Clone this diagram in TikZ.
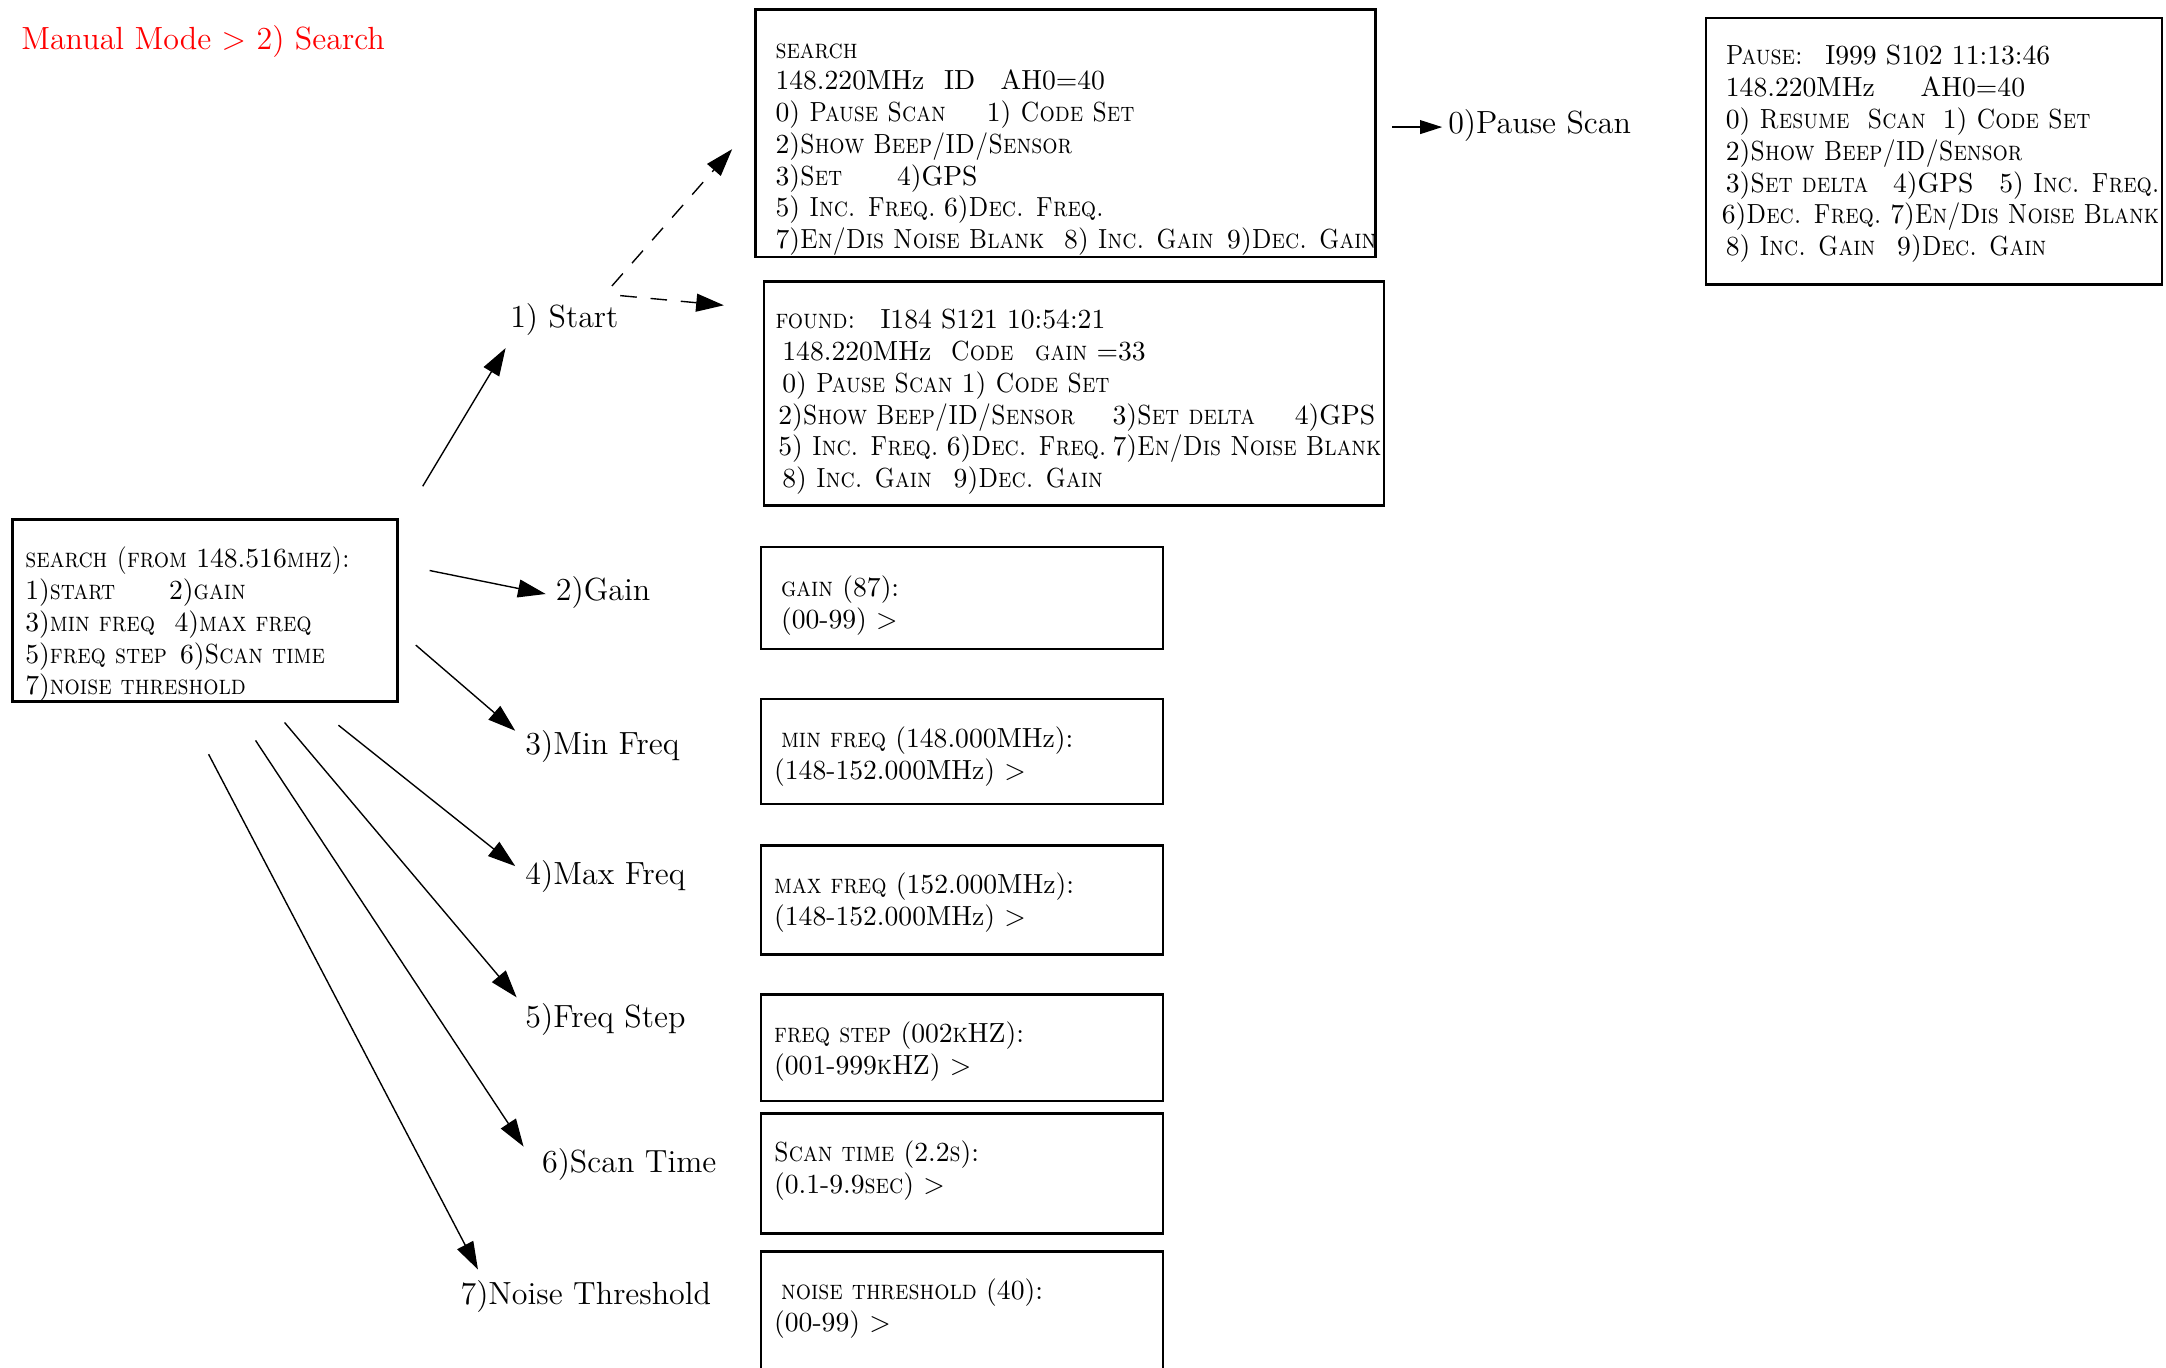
\documentclass[tikz,border=0pt]{standalone}
\usetikzlibrary{arrows.meta}
\newcommand\seg[2]{\makebox[#1pt][l]{#2}}
\newcommand\mysc[1]{\scalebox{0.87}[1]{\textsc{#1}}}
\begin{document}
\begin{tikzpicture}[x=0.5pt,y=-0.5pt,
  box/.style={draw, line width=0.9pt, inner sep=0pt, anchor=north west},
  txt/.style={anchor=base west, inner sep=0pt, font=\fontsize{10}{11.5}\selectfont},
  lbl/.style={anchor=base west, inner sep=0pt, font=\fontsize{11.6}{13}\selectfont},
  arr/.style={-{Triangle[length=10pt,width=6.5pt]}, line width=0.5pt},
  darr/.style={arr, dash pattern=on 6pt off 5pt}]
\useasboundingbox (0,0) rectangle (1568,990);

% title
\node[lbl, text=red] (title) at (15,36) {Manual Mode > 2) Search};

% boxes
\node[box, minimum width=139.5pt, minimum height=66pt] (menu) at (8,375) {};
\node[box, minimum width=224.5pt, minimum height=89.5pt] (searchbox) at (546,6) {};
\node[box, minimum width=224.5pt, minimum height=81pt] (foundbox) at (552,203) {};
\node[box, minimum width=165pt, minimum height=96.5pt] (pausebox) at (1234,12) {};
\node[box, minimum width=145.5pt, minimum height=37pt] (gainbox) at (550,395) {};
\node[box, minimum width=145.5pt, minimum height=38pt] (minbox) at (550,505) {};
\node[box, minimum width=145.5pt, minimum height=39.5pt] (maxbox) at (550,611) {};
\node[box, minimum width=145.5pt, minimum height=38.5pt] (stepbox) at (550,719) {};
\node[box, minimum width=145.5pt, minimum height=43.5pt] (timebox) at (550,805) {};
\node[box, minimum width=145.5pt, minimum height=60pt] (noisebox) at (550,905) {};

% texts
\node[txt] (menutxt) at (18,411) {\begin{tabular}[t]{@{}l@{}}
\mysc{search (from} 148.516\mysc{mhz):}\\
\seg{52}{1)\mysc{start}}2)\mysc{gain}\\
\seg{54}{3)\mysc{min freq}}4)\mysc{max freq}\\
\seg{56}{5)\mysc{freq step}}6)\mysc{Scan time}\\
7)\mysc{noise threshold}
\end{tabular}};

\node[txt] (searchtxt) at (561,42) {\begin{tabular}[t]{@{}l@{}}
\mysc{search}\\
\seg{61}{148.220MHz}\seg{20.5}{ID}AH0=40\\
\seg{76.5}{0) \mysc{Pause Scan}}1) \mysc{Code Set}\\
2)\mysc{Show Beep/ID/Sensor}\\
\seg{44}{3)\mysc{Set}}4)GPS\\
\seg{61}{5) \mysc{Inc. Freq.}}6)\mysc{Dec. Freq.}\\
\seg{104.5}{7)\mysc{En/Dis Noise Blank}}\seg{59}{8) \mysc{Inc. Gain}}9)\mysc{Dec. Gain}
\end{tabular}};

\node[txt] (foundtxt) at (561,238) {\begin{tabular}[t]{@{}l@{}}
\seg{38}{\mysc{found:}}I184 S121 10:54:21\\
\hspace{2.5pt}\seg{61}{148.220MHz}\seg{30.5}{\mysc{Code}}\mysc{gain} =33\\
\hspace{2.5pt}0) \mysc{Pause Scan} 1) \mysc{Code Set}\\
\hspace{1pt}\seg{121}{2)\mysc{Show Beep/ID/Sensor}}\seg{66}{3)\mysc{Set delta}}4)GPS\\
\hspace{1pt}\seg{61}{5) \mysc{Inc. Freq.}}\seg{60}{6)\mysc{Dec. Freq.}}7)\mysc{En/Dis Noise Blank}\\
\hspace{2.5pt}\seg{62}{8) \mysc{Inc. Gain}}9)\mysc{Dec. Gain}
\end{tabular}};

\node[txt] (pausetxt) at (1249,47) {\begin{tabular}[t]{@{}l@{}}
\seg{36}{\mysc{Pause:}}I999 S102 11:13:46\\
\seg{70.5}{148.220MHz}AH0=40\\
\seg{78.5}{0) \mysc{Resume\ \ Scan}}1) \mysc{Code Set}\\
2)\mysc{Show Beep/ID/Sensor}\\
\seg{60.5}{3)\mysc{Set delta}}\seg{38.5}{4)GPS}5) \mysc{Inc. Freq.}\\
\hspace{-1.5pt}\seg{61}{6)\mysc{Dec. Freq.}}7)\mysc{En/Dis Noise Blank}\\
\seg{62}{8) \mysc{Inc. Gain}}9)\mysc{Dec. Gain}
\end{tabular}};

\node[txt] (gaintxt) at (560,432) {\begin{tabular}[t]{@{}l@{}}
\hspace{2.5pt}\mysc{gain} (87):\\
\hspace{2.5pt}(00-99) >
\end{tabular}};
\node[txt] (mintxt) at (560,541) {\begin{tabular}[t]{@{}l@{}}
\hspace{2.5pt}\mysc{min freq} (148.000MHz):\\
(148-152.000MHz) >
\end{tabular}};
\node[txt] (maxtxt) at (560,647) {\begin{tabular}[t]{@{}l@{}}
\mysc{max freq} (152.000MHz):\\
(148-152.000MHz) >
\end{tabular}};
\node[txt] (steptxt) at (560,755) {\begin{tabular}[t]{@{}l@{}}
\mysc{freq step} (002\mysc{k}HZ):\\
(001-999\mysc{k}HZ) >
\end{tabular}};
\node[txt] (timetxt) at (560,841) {\begin{tabular}[t]{@{}l@{}}
\mysc{Scan time} (2.2\mysc{s}):\\
(0.1-9.9\mysc{sec}) >
\end{tabular}};
\node[txt] (noisetxt) at (560,941) {\begin{tabular}[t]{@{}l@{}}
\hspace{2.5pt}\mysc{noise threshold} (40):\\
(00-99) >
\end{tabular}};

% labels
\node[lbl] (lstart) at (369,237) {1) Start};
\node[lbl] (lgain) at (402,435) {2)Gain};
\node[lbl] (lmin) at (380,546) {3)Min Freq};
\node[lbl] (lmax) at (380,640) {4)Max Freq};
\node[lbl] (lstep) at (380,744) {5)Freq Step};
\node[lbl] (ltime) at (392,849) {6)Scan Time};
\node[lbl] (lnoise) at (333,944) {7)Noise Threshold};
\node[lbl] (lpause) at (1048,97) {0)Pause Scan};

% connector end points
\coordinate (s1) at (306,352); \coordinate (t1) at (366,252);
\coordinate (sd1) at (443,207); \coordinate (td1) at (530,108);
\coordinate (sd2) at (449,214); \coordinate (td2) at (524,221);
\coordinate (sp) at (1008,92); \coordinate (tp) at (1044,92);
\coordinate (s2) at (311,413); \coordinate (t2) at (395,430);
\coordinate (s3) at (301,467); \coordinate (t3) at (373,529);
\coordinate (s4) at (245,525); \coordinate (t4) at (373,627);
\coordinate (s5) at (206,523); \coordinate (t5) at (374,722);
\coordinate (s6) at (185,536); \coordinate (t6) at (379,830);
\coordinate (s7) at (151,546); \coordinate (t7) at (346,919);

\draw[arr] (s1) -- (t1);
\draw[darr] (sd1) -- (td1);
\draw[darr] (sd2) -- (td2);
\draw[line width=0.5pt, -{Triangle[length=8pt,width=5pt]}] (sp) -- (tp);
\draw[arr] (s2) -- (t2);
\draw[arr] (s3) -- (t3);
\draw[arr] (s4) -- (t4);
\draw[arr] (s5) -- (t5);
\draw[arr] (s6) -- (t6);
\draw[arr] (s7) -- (t7);
\end{tikzpicture}
\end{document}
